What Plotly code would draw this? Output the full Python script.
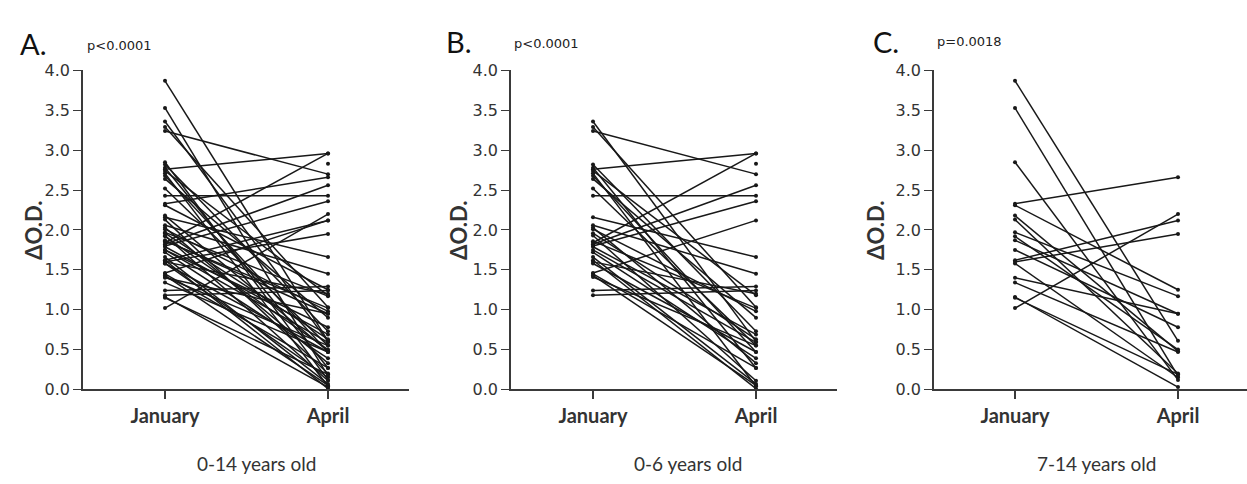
import plotly.graph_objects as go

W, H = 1247, 484

categories = ["January", "April"]

# Panel B: 0-6 years old (January, April pairs)
jan_B = [3.36, 3.29, 3.24, 2.82, 2.78, 2.76, 2.74, 2.71, 2.68, 2.64,
         2.52, 2.43, 2.16, 2.06, 2.03, 2.01, 1.96, 1.93, 1.86, 1.84,
         1.82, 1.80, 1.79, 1.75, 1.72, 1.66, 1.62, 1.60, 1.58, 1.46,
         1.45, 1.43, 1.41, 1.24, 1.18]
apr_B = [0.60, 1.03, 2.70, 0.73, 0.27, 2.96, 1.18, 0.04, 0.47, 0.90,
         0.55, 2.43, 1.66, 1.45, 0.33, 0.98, 0.63, 0.11, 1.02, 2.96,
         2.56, 2.36, 0.69, 0.59, 0.39, 0.07, 0.01, 1.20, 0.47, 2.12,
         0.27, 0.05, 0.55, 1.29, 1.24]
# unpaired April value
apr_B_only = [2.83]

# Panel C: 7-14 years old
jan_C = [3.87, 3.53, 2.85, 2.33, 2.31, 2.18, 2.13, 1.97, 1.92, 1.87,
         1.75, 1.62, 1.60, 1.58, 1.40, 1.34, 1.16, 1.15, 1.02]
apr_C = [0.61, 0.17, 0.12, 2.66, 1.25, 0.48, 0.20, 1.17, 0.50, 0.95,
         0.78, 2.12, 1.95, 0.15, 0.95, 0.47, 0.03, 0.19, 2.20]

# Panel A: 0-14 years old = all children
jan_A = jan_B + jan_C
apr_A = apr_B + apr_C
apr_A_only = apr_B_only

y_ticks = [0.0, 0.5, 1.0, 1.5, 2.0, 2.5, 3.0, 3.5, 4.0]


def px(x):
    return x / W


def py(y):
    return 1 - y / H


panels = [
    dict(letter="A.", p="p<0.0001", sub="0-14 years old", jan=jan_A, apr=apr_A, only=apr_A_only,
         x0=83, x1=409, jan_x=165, letter_x=18, letter_y=36, p_x=85, p_y=38, sub_x=256, ytitle_x=34),
    dict(letter="B.", p="p<0.0001", sub="0-6 years old", jan=jan_B, apr=apr_B, only=apr_B_only,
         x0=511, x1=837, jan_x=593, letter_x=444, letter_y=34, p_x=512, p_y=36, sub_x=688, ytitle_x=459),
    dict(letter="C.", p="p=0.0018", sub="7-14 years old", jan=jan_C, apr=apr_C, only=[],
         x0=934, x1=1247, jan_x=1015, letter_x=871, letter_y=34, p_x=935, p_y=34, sub_x=1096, ytitle_x=876),
]
step = 163.0  # px between January and April
ytop, ybot = 64, 396

fig = go.Figure()
annotations = []
layout = {}
line_col = "#181818"
axis_col = "#3a3a3a"

for i, pn in enumerate(panels, start=1):
    xs, ys = [], []
    for j, a in zip(pn["jan"], pn["apr"]):
        xs += [0, 1, None]
        ys += [j, a, None]
    suffix = "" if i == 1 else str(i)
    fig.add_trace(go.Scatter(x=xs, y=ys, mode="lines+markers",
                             line=dict(color=line_col, width=1.5),
                             marker=dict(color=line_col, size=4),
                             xaxis="x" + suffix, yaxis="y" + suffix,
                             showlegend=False, hoverinfo="skip"))
    if pn["only"]:
        fig.add_trace(go.Scatter(x=[1] * len(pn["only"]), y=pn["only"], mode="markers",
                                 marker=dict(color=line_col, size=4),
                                 xaxis="x" + suffix, yaxis="y" + suffix,
                                 showlegend=False, hoverinfo="skip"))
    x1 = min(pn["x1"], W)
    xr = [(pn["x0"] - pn["jan_x"]) / step, (x1 - pn["jan_x"]) / step]
    layout["xaxis" + suffix] = dict(
        domain=[px(pn["x0"]), px(x1)], range=xr,
        anchor="y" + suffix, tickvals=[0, 1], ticktext=[f"<b>{c}</b>" for c in categories],
        showline=True, linecolor=axis_col, linewidth=1.6, ticks="outside",
        ticklen=8, tickwidth=1.6, tickcolor=axis_col, showgrid=False, zeroline=False,
        tickfont=dict(family="Lato, Open Sans, sans-serif", size=20, color="#333333"),
        fixedrange=True)
    layout["yaxis" + suffix] = dict(
        domain=[py(ybot), py(ytop)], range=[0, 4.0],
        anchor="x" + suffix, tickvals=y_ticks, ticktext=[f"{v:.1f}" for v in y_ticks],
        showline=True, linecolor=axis_col, linewidth=1.6, ticks="outside",
        ticklen=8, tickwidth=1.4, tickcolor=axis_col, showgrid=False, zeroline=False,
        tickfont=dict(family="DejaVu Sans, Verdana, sans-serif", size=16, color="#333333"),
        fixedrange=True)
    annotations += [
        dict(text=pn["letter"], x=px(pn["letter_x"]), y=py(pn["letter_y"]), xref="paper", yref="paper",
             xanchor="left", yanchor="middle", showarrow=False,
             font=dict(family="Lato, Open Sans, sans-serif", size=29, color="#111111")),
        dict(text=pn["p"], x=px(pn["p_x"]), y=py(pn["p_y"]), xref="paper", yref="paper",
             xanchor="left", yanchor="middle", showarrow=False,
             font=dict(family="DejaVu Sans, Verdana, sans-serif", size=13, color="#222222")),
        dict(text=pn["sub"], x=px(pn["sub_x"]), y=py(473), xref="paper", yref="paper",
             xanchor="center", yanchor="middle", showarrow=False,
             font=dict(family="Lato, Open Sans, sans-serif", size=19, color="#333333")),
        dict(text="<b>ΔO.D.</b>", x=px(pn["ytitle_x"]), y=py(231), xref="paper", yref="paper",
             xanchor="center", yanchor="middle", showarrow=False, textangle=-90,
             font=dict(family="Lato, Open Sans, sans-serif", size=22, color="#333333")),
    ]

fig.update_layout(width=W, height=H, margin=dict(l=0, r=0, t=0, b=0),
                  paper_bgcolor="white", plot_bgcolor="white",
                  annotations=annotations, **layout)

fig.write_html("out.html")
